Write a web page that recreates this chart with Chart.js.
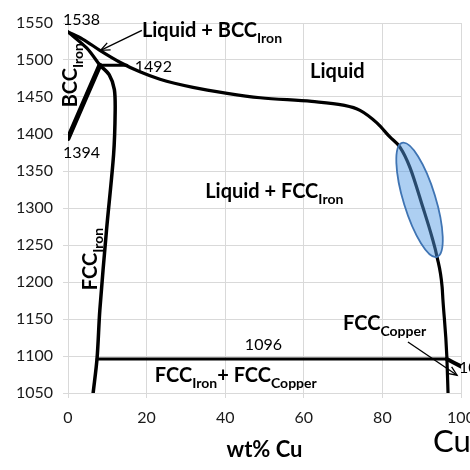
<!DOCTYPE html>
<html><head><meta charset="utf-8">
<script src="https://cdn.jsdelivr.net/npm/chart.js@4/dist/chart.umd.min.js"></script>
<style>html,body{margin:0;padding:0;background:#fff;}#wrap{width:470px;height:470px;}</style>
</head><body><div id="wrap"><canvas id="c" width="470" height="470"></canvas></div>
<script>
// ---- data ----
const xTicks = [0, 20, 40, 60, 80, 100];
const yTicks = [1050, 1100, 1150, 1200, 1250, 1300, 1350, 1400, 1450, 1500, 1550];

const liquidusX = [0, 3.8, 8.1, 13.2, 18.3, 23.4, 31.8, 40.5, 48.9, 62, 70, 74.3, 78.6, 81.9, 84.5, 87.0, 90.3, 92.6, 93.9, 95.2, 95.4, 96.4, 96.7];
const liquidusY = [1538, 1528, 1513, 1497, 1484, 1474, 1463, 1455, 1449, 1444, 1439, 1432, 1415, 1396, 1382, 1355, 1301, 1261, 1234, 1193, 1176, 1099, 1050];

const bccSolidusX = [0, 4.8, 8.1];
const bccSolidusY = [1538, 1516, 1493];

const peritecticX = [8.1, 15];
const peritecticY = [1493, 1493];

const bccFccX = [8.1, 0];
const bccFccY = [1493, 1394];

const fccSolvusX = [8.1, 10.5, 11.8, 12.0, 11.6, 9.8, 8.1, 7.4, 6.4];
const fccSolvusY = [1493, 1480, 1460, 1430, 1372, 1270, 1162, 1097, 1050];

const eutecticX = [7.4, 96.4];
const eutecticY = [1096, 1096];

const cuSolvusX = [96.4, 100];
const cuSolvusY = [1096, 1086];

// highlighted region (ellipse end points along its long axis)
const ellipseX = [85.0, 93.9];
const ellipseY = [1388, 1234];

// arrows: [tailX, tailY, tipX, tipY]
const arrowBcc = [18.8, 1540, 8.3, 1513];
const arrowCu = [86.5, 1119, 99, 1074];

const pts = (xs, ys) => xs.map((x, i) => ({x: x, y: ys[i]}));

const FONT = "Lato, 'Open Sans', sans-serif";

const labels = [
  {x: -1.3, y: 1547, parts: [['1538', 0]], bold: false, size: 16},
  {x: 18.8, y: 1531, parts: [['Liquid + BCC', 0], ['Iron', 1]], bold: true, size: 20},
  {x: 17.0, y: 1484, parts: [['1492', 0]], bold: false, size: 16},
  {x: 61.6, y: 1476, parts: [['Liquid', 0]], bold: true, size: 20},
  {x: 2.3, y: 1436, parts: [['BCC', 0], ['Iron', 1]], bold: true, size: 20, rot: true},
  {x: -1.3, y: 1368, parts: [['1394', 0]], bold: false, size: 16},
  {x: 34.9, y: 1313, parts: [['Liquid + FCC', 0], ['Iron', 1]], bold: true, size: 20},
  {x: 7.4, y: 1189, parts: [['FCC', 0], ['Iron', 1]], bold: true, size: 20, rot: true},
  {x: 45.0, y: 1108, parts: [['1096', 0]], bold: false, size: 16},
  {x: 22.1, y: 1065, parts: [['FCC', 0], ['Iron', 1], ['+ FCC', 0], ['Copper', 1]], bold: true, size: 20},
  {x: 70.0, y: 1135, parts: [['FCC', 0], ['Copper', 1]], bold: true, size: 20},
  {x: 99.5, y: 1077, parts: [['1096', 0]], bold: false, size: 16}
];

const lineDs = (xs, ys, w, mono) => ({
  data: pts(xs, ys), showLine: true, borderColor: '#000', borderWidth: w,
  pointRadius: 0, tension: 0.3, fill: false, borderCapStyle: 'round', borderJoinStyle: 'round',
  cubicInterpolationMode: mono ? 'monotone' : 'default'
});

const overlay = {
  id: 'overlay',
  afterDatasetsDraw(chart) {
    const ctx = chart.ctx, xs = chart.scales.x, ys = chart.scales.y;
    const X = v => xs.getPixelForValue(v), Y = v => ys.getPixelForValue(v);
    // ellipse
    ctx.save();
    const x1 = X(ellipseX[0]), y1 = Y(ellipseY[0]), x2 = X(ellipseX[1]), y2 = Y(ellipseY[1]);
    const cx = (x1 + x2) / 2, cy = (y1 + y2) / 2;
    const a = Math.hypot(x2 - x1, y2 - y1) / 2;
    const ang = Math.atan2(y2 - y1, x2 - x1);
    ctx.beginPath();
    ctx.ellipse(cx, cy, a, 16, ang, 0, Math.PI * 2);
    ctx.fillStyle = 'rgba(84,154,228,0.48)';
    ctx.fill();
    ctx.lineWidth = 1.8;
    ctx.strokeStyle = '#3f74b3';
    ctx.stroke();
    ctx.restore();
    // arrows
    const arrow = (ar) => {
      const tx = X(ar[0]), ty = Y(ar[1]), hx = X(ar[2]), hy = Y(ar[3]);
      const an = Math.atan2(hy - ty, hx - tx);
      ctx.save();
      ctx.strokeStyle = '#000'; ctx.lineWidth = 1.3;
      ctx.beginPath(); ctx.moveTo(tx, ty); ctx.lineTo(hx, hy); ctx.stroke();
      ctx.beginPath();
      ctx.moveTo(hx - 10 * Math.cos(an - 0.4), hy - 10 * Math.sin(an - 0.4));
      ctx.lineTo(hx, hy);
      ctx.lineTo(hx - 10 * Math.cos(an + 0.4), hy - 10 * Math.sin(an + 0.4));
      ctx.stroke();
      ctx.restore();
    };
    arrow(arrowBcc); arrow(arrowCu);
    // labels
    labels.forEach(l => {
      ctx.save();
      ctx.translate(X(l.x), Y(l.y));
      if (l.rot) ctx.rotate(-Math.PI / 2);
      ctx.fillStyle = '#000';
      ctx.textBaseline = 'alphabetic'; ctx.textAlign = 'left';
      let cur = 0;
      l.parts.forEach(p => {
        const sub = p[1] === 1;
        const sz = sub ? Math.round(l.size * 0.7) : l.size;
        ctx.font = (l.bold ? 'bold ' : '') + sz + 'px ' + FONT;
        ctx.fillText(p[0], cur, sub ? l.size * 0.3 : 0);
        cur += ctx.measureText(p[0]).width;
      });
      ctx.restore();
    });
  },
  afterDraw(chart) {
    const ctx = chart.ctx, ca = chart.chartArea;
    ctx.save();
    ctx.fillStyle = '#000';
    ctx.textBaseline = 'alphabetic';
    ctx.textAlign = 'center';
    ctx.font = 'bold 22px ' + FONT;
    ctx.fillText('wt% Cu', (ca.left + ca.right) / 2, ca.bottom + 64);
    ctx.textAlign = 'left';
    ctx.font = '31px ' + FONT;
    ctx.fillText('Cu', ca.right - 28, ca.bottom + 59);
    ctx.restore();
  }
};

new Chart(document.getElementById('c'), {
  type: 'scatter',
  data: {
    datasets: [
      lineDs(liquidusX, liquidusY, 3.2, true),
      lineDs(bccSolidusX, bccSolidusY, 3.2),
      lineDs(peritecticX, peritecticY, 3),
      lineDs(bccFccX, bccFccY, 5),
      lineDs(fccSolvusX, fccSolvusY, 3.5),
      lineDs(eutecticX, eutecticY, 3),
      lineDs(cuSolvusX, cuSolvusY, 4)
    ]
  },
  options: {
    responsive: false, animation: false,
    layout: {autoPadding: false, padding: {top: 23, right: 9, left: 0, bottom: 0}},
    plugins: {legend: {display: false}, tooltip: {enabled: false}},
    scales: {
      x: {
        type: 'linear', min: 0, max: 100,
        afterBuildTicks: s => { s.ticks = xTicks.map(v => ({value: v})); },
        afterFit: s => { s.height = 77; s.paddingLeft = 0; s.paddingRight = 0; },
        grid: {color: '#d9d9d9', lineWidth: 1, tickLength: 5},
        border: {color: '#d9d9d9'},
        ticks: {color: '#1a1a1a', font: {family: FONT, size: 16}, padding: 10, maxRotation: 0,
                callback: v => String(v)}
      },
      y: {
        type: 'linear', min: 1050, max: 1550,
        afterBuildTicks: s => { s.ticks = yTicks.map(v => ({value: v})); },
        afterFit: s => { s.width = 68; s.paddingTop = 0; s.paddingBottom = 0; },
        grid: {color: '#d9d9d9', lineWidth: 1, tickLength: 5},
        border: {color: '#d9d9d9'},
        ticks: {color: '#1a1a1a', font: {family: FONT, size: 16}, padding: 10,
                callback: v => String(v)}
      }
    }
  },
  plugins: [overlay]
});
</script>
</body></html>
